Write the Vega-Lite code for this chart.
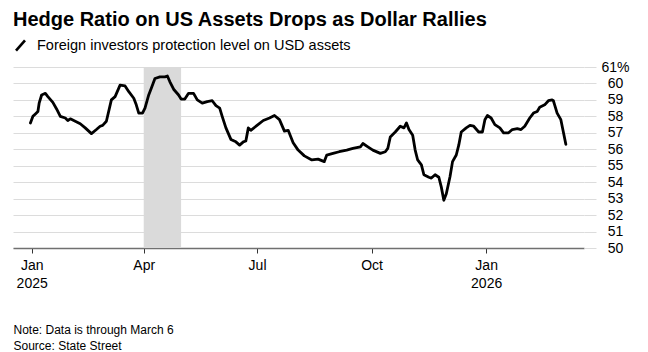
{
  "$schema": "https://vega.github.io/schema/vega-lite/v6.json",
  "width": 571,
  "height": 181,
  "autosize": {"type": "none"},
  "padding": {"left": 13, "top": 67, "right": 64, "bottom": 104},
  "background": "#ffffff",
  "title": {
    "text": "Hedge Ratio on US Assets Drops as Dollar Rallies",
    "anchor": "start",
    "font": "Liberation Sans",
    "fontSize": 20,
    "fontWeight": "bold",
    "color": "#000000",
    "offset": 8
  },
  "config": {
    "view": {"stroke": null},
    "font": "Liberation Sans"
  },
  "layer": [
    {
      "data": {"values": [{"start": "2025-04-01", "end": "2025-05-01"}]},
      "mark": {"type": "rect", "color": "#dadada"},
      "encoding": {
        "x": {"field": "start", "type": "temporal"},
        "x2": {"field": "end"}
      }
    },
    {
      "data": {"values": [
        {"date": "2024-12-31", "value": 57.6},
        {"date": "2025-01-02", "value": 58.0},
        {"date": "2025-01-04", "value": 58.15},
        {"date": "2025-01-06", "value": 58.3},
        {"date": "2025-01-07", "value": 58.8},
        {"date": "2025-01-09", "value": 59.3},
        {"date": "2025-01-12", "value": 59.4},
        {"date": "2025-01-14", "value": 59.2},
        {"date": "2025-01-18", "value": 58.85},
        {"date": "2025-01-21", "value": 58.45},
        {"date": "2025-01-24", "value": 58.0},
        {"date": "2025-01-28", "value": 57.9},
        {"date": "2025-01-30", "value": 57.75},
        {"date": "2025-02-01", "value": 57.85},
        {"date": "2025-02-05", "value": 57.7},
        {"date": "2025-02-09", "value": 57.55},
        {"date": "2025-02-13", "value": 57.3},
        {"date": "2025-02-18", "value": 56.95},
        {"date": "2025-02-22", "value": 57.2},
        {"date": "2025-02-25", "value": 57.4},
        {"date": "2025-02-27", "value": 57.45},
        {"date": "2025-03-02", "value": 57.7},
        {"date": "2025-03-06", "value": 59.0},
        {"date": "2025-03-09", "value": 59.2},
        {"date": "2025-03-13", "value": 59.9},
        {"date": "2025-03-17", "value": 59.85},
        {"date": "2025-03-20", "value": 59.5},
        {"date": "2025-03-24", "value": 59.1},
        {"date": "2025-03-26", "value": 58.7},
        {"date": "2025-03-28", "value": 58.2},
        {"date": "2025-03-31", "value": 58.2},
        {"date": "2025-04-02", "value": 58.5},
        {"date": "2025-04-05", "value": 59.3},
        {"date": "2025-04-07", "value": 59.7},
        {"date": "2025-04-10", "value": 60.3},
        {"date": "2025-04-14", "value": 60.4},
        {"date": "2025-04-18", "value": 60.4},
        {"date": "2025-04-20", "value": 60.45},
        {"date": "2025-04-22", "value": 60.1},
        {"date": "2025-04-25", "value": 59.65},
        {"date": "2025-04-29", "value": 59.3},
        {"date": "2025-05-01", "value": 59.05},
        {"date": "2025-05-04", "value": 59.05},
        {"date": "2025-05-07", "value": 59.4},
        {"date": "2025-05-11", "value": 59.4},
        {"date": "2025-05-14", "value": 59.0},
        {"date": "2025-05-18", "value": 58.8},
        {"date": "2025-05-22", "value": 58.9},
        {"date": "2025-05-26", "value": 58.95},
        {"date": "2025-05-29", "value": 58.65},
        {"date": "2025-06-01", "value": 58.5},
        {"date": "2025-06-03", "value": 58.0},
        {"date": "2025-06-06", "value": 57.3},
        {"date": "2025-06-10", "value": 56.6},
        {"date": "2025-06-14", "value": 56.45},
        {"date": "2025-06-17", "value": 56.25},
        {"date": "2025-06-20", "value": 56.45},
        {"date": "2025-06-22", "value": 56.5},
        {"date": "2025-06-24", "value": 57.3},
        {"date": "2025-06-26", "value": 57.15},
        {"date": "2025-07-01", "value": 57.45},
        {"date": "2025-07-06", "value": 57.75},
        {"date": "2025-07-11", "value": 57.9},
        {"date": "2025-07-15", "value": 58.05},
        {"date": "2025-07-19", "value": 57.8},
        {"date": "2025-07-23", "value": 57.1},
        {"date": "2025-07-26", "value": 57.15},
        {"date": "2025-07-30", "value": 56.4},
        {"date": "2025-08-03", "value": 55.95},
        {"date": "2025-08-08", "value": 55.6},
        {"date": "2025-08-14", "value": 55.35},
        {"date": "2025-08-19", "value": 55.4},
        {"date": "2025-08-24", "value": 55.25},
        {"date": "2025-08-26", "value": 55.65},
        {"date": "2025-08-31", "value": 55.75},
        {"date": "2025-09-05", "value": 55.85},
        {"date": "2025-09-11", "value": 55.95},
        {"date": "2025-09-16", "value": 56.05},
        {"date": "2025-09-22", "value": 56.15},
        {"date": "2025-09-24", "value": 56.35},
        {"date": "2025-09-28", "value": 56.15},
        {"date": "2025-10-02", "value": 55.95},
        {"date": "2025-10-08", "value": 55.75},
        {"date": "2025-10-12", "value": 55.85},
        {"date": "2025-10-14", "value": 56.05},
        {"date": "2025-10-16", "value": 56.75},
        {"date": "2025-10-20", "value": 57.05},
        {"date": "2025-10-24", "value": 57.4},
        {"date": "2025-10-27", "value": 57.3},
        {"date": "2025-10-29", "value": 57.6},
        {"date": "2025-10-31", "value": 57.2},
        {"date": "2025-11-03", "value": 56.85},
        {"date": "2025-11-05", "value": 55.95},
        {"date": "2025-11-07", "value": 55.35},
        {"date": "2025-11-10", "value": 55.05},
        {"date": "2025-11-12", "value": 54.45},
        {"date": "2025-11-16", "value": 54.3},
        {"date": "2025-11-18", "value": 54.25},
        {"date": "2025-11-21", "value": 54.45},
        {"date": "2025-11-24", "value": 54.3},
        {"date": "2025-11-26", "value": 53.7},
        {"date": "2025-11-28", "value": 52.9},
        {"date": "2025-11-30", "value": 53.3},
        {"date": "2025-12-03", "value": 54.35},
        {"date": "2025-12-05", "value": 55.25},
        {"date": "2025-12-08", "value": 55.65},
        {"date": "2025-12-10", "value": 56.25},
        {"date": "2025-12-12", "value": 57.05},
        {"date": "2025-12-16", "value": 57.3},
        {"date": "2025-12-19", "value": 57.45},
        {"date": "2025-12-22", "value": 57.4},
        {"date": "2025-12-26", "value": 57.05},
        {"date": "2025-12-29", "value": 57.05},
        {"date": "2025-12-31", "value": 57.8},
        {"date": "2026-01-02", "value": 58.05},
        {"date": "2026-01-05", "value": 57.9},
        {"date": "2026-01-08", "value": 57.5},
        {"date": "2026-01-12", "value": 57.3},
        {"date": "2026-01-15", "value": 57.0},
        {"date": "2026-01-19", "value": 57.0},
        {"date": "2026-01-22", "value": 57.2},
        {"date": "2026-01-26", "value": 57.25},
        {"date": "2026-01-29", "value": 57.2},
        {"date": "2026-02-01", "value": 57.4},
        {"date": "2026-02-05", "value": 57.9},
        {"date": "2026-02-08", "value": 58.2},
        {"date": "2026-02-11", "value": 58.3},
        {"date": "2026-02-13", "value": 58.55},
        {"date": "2026-02-17", "value": 58.7},
        {"date": "2026-02-20", "value": 58.95},
        {"date": "2026-02-23", "value": 59.0},
        {"date": "2026-02-24", "value": 58.95},
        {"date": "2026-02-25", "value": 58.7},
        {"date": "2026-02-27", "value": 58.2},
        {"date": "2026-03-02", "value": 57.8},
        {"date": "2026-03-04", "value": 57.05},
        {"date": "2026-03-06", "value": 56.3}
      ]},
      "transform": [
        {"calculate": "'Foreign investors protection level on USD assets'", "as": "series"}
      ],
      "mark": {"type": "line", "strokeWidth": 2.8, "strokeJoin": "round", "strokeCap": "round"},
      "encoding": {
        "x": {"field": "date", "type": "temporal"},
        "y": {"field": "value", "type": "quantitative"},
        "color": {
          "field": "series",
          "type": "nominal",
          "scale": {"range": ["#000000"]},
          "legend": {
            "orient": "none",
            "legendX": 0,
            "legendY": -29,
            "title": null,
            "padding": 0,
            "symbolType": "M -0.75 0.85 L 0.75 -0.85",
            "symbolSize": 144,
            "symbolStrokeWidth": 2.6,
            "symbolStrokeColor": "#000000",
            "labelFontSize": 14.5,
            "labelColor": "#000000",
            "labelFont": "Liberation Sans",
            "labelOffset": 9,
            "labelLimit": 600
          }
        }
      }
    }
  ],
  "resolve": {"scale": {"x": "shared"}},
  "encoding": {
    "x": {
      "scale": {
        "type": "utc",
        "domain": [
          {"year": 2024, "month": 12, "date": 17, "utc": true},
          {"year": 2026, "month": 3, "date": 20, "hours": 14, "utc": true}
        ]
      },
      "axis": {
        "values": [
          {"year": 2025, "month": 1, "date": 1, "utc": true},
          {"year": 2025, "month": 4, "date": 1, "utc": true},
          {"year": 2025, "month": 7, "date": 1, "utc": true},
          {"year": 2025, "month": 10, "date": 1, "utc": true},
          {"year": 2026, "month": 1, "date": 1, "utc": true}
        ],
        "labelExpr": "utcFormat(datum.value, '%m') == '01' ? [utcFormat(datum.value, '%b'), utcFormat(datum.value, '%Y')] : utcFormat(datum.value, '%b')",
        "labelFontSize": 14,
        "labelColor": "#000000",
        "labelFont": "Liberation Sans",
        "labelPadding": 5,
        "labelLineHeight": 18,
        "labelBaseline": "top",
        "grid": false,
        "domain": true,
        "domainColor": "#707070",
        "domainWidth": 1.5,
        "ticks": true,
        "tickColor": "#333333",
        "tickSize": 5,
        "tickWidth": 1,
        "title": ["Note: Data is through March 6", "Source: State Street"],
        "titleFontSize": 12,
        "titleFontWeight": "normal",
        "titleFont": "Liberation Sans",
        "titleColor": "#000000",
        "titleAnchor": "start",
        "titleAlign": "left",
        "titleBaseline": "top",
        "titleX": 0,
        "titleY": 76,
        "titleLineHeight": 16
      }
    },
    "y": {
      "scale": {"domain": [50, 61], "nice": false, "zero": false},
      "axis": {
        "orient": "right",
        "values": [50, 51, 52, 53, 54, 55, 56, 57, 58, 59, 60, 61],
        "labelExpr": "datum.value == 61 ? '61%' : datum.label",
        "labelFontSize": 14,
        "labelColor": "#000000",
        "labelFont": "Liberation Sans",
        "labelAlign": "center",
        "labelBaseline": "middle",
        "labelPadding": 19,
        "grid": true,
        "gridColor": "#dcdcdc",
        "gridWidth": 1,
        "domain": false,
        "ticks": true,
        "tickColor": "#dcdcdc",
        "tickSize": 12,
        "title": null
      }
    }
  }
}
